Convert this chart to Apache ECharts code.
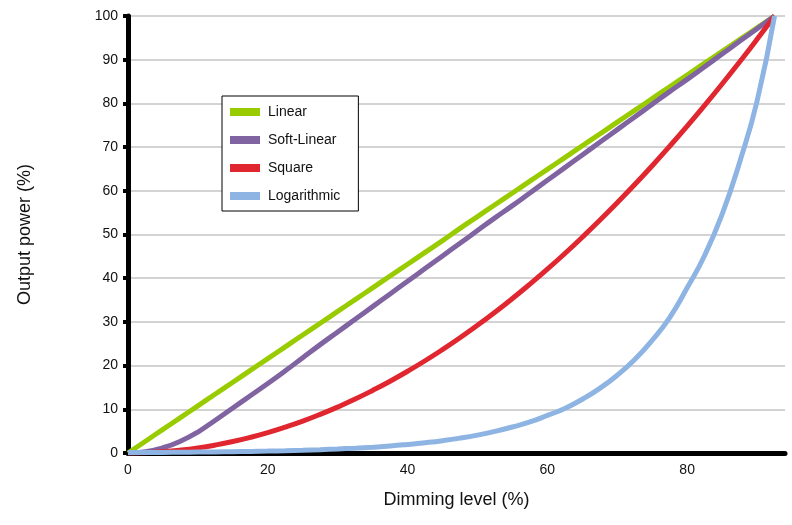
<!DOCTYPE html>
<html>
<head>
<meta charset="utf-8">
<script src="https://cdn.jsdelivr.net/npm/echarts@6/dist/echarts.min.js"></script>
<style>
html,body{margin:0;padding:0;background:#fff;}
#chart{width:792px;height:525px;}
</style>
</head>
<body>
<div id="chart"></div>
<script>
var seriesNames = ['Linear', 'Soft-Linear', 'Square', 'Logarithmic'];
var dimming = [0, 2.5, 5, 7.5, 10, 12.5, 15, 17.5, 20, 22.5, 25, 27.5, 30, 32.5, 35, 37.5, 40, 42.5, 45, 47.5, 50, 52.5, 55, 57.5, 60, 62.5, 65, 67.5, 70, 72.5, 75, 77.5, 80, 82.5, 85, 87.5, 90, 92.5];
var linear = [0, 2.7, 5.4, 8.1, 10.8, 13.5, 16.2, 18.9, 21.6, 24.3, 27.0, 29.7, 32.4, 35.1, 37.8, 40.5, 43.2, 45.9, 48.6, 51.4, 54.1, 56.8, 59.5, 62.2, 64.9, 67.6, 70.3, 73.0, 75.7, 78.4, 81.1, 83.8, 86.5, 89.2, 91.9, 94.6, 97.3, 100];
var softLinear = [0, 0.3, 1.2, 2.7, 4.8, 7.5, 10.3, 13.1, 15.9, 18.8, 21.8, 24.8, 27.7, 30.6, 33.5, 36.4, 39.3, 42.2, 45.1, 48.0, 50.9, 53.8, 56.6, 59.5, 62.4, 65.3, 68.2, 71.1, 74.0, 76.9, 79.8, 82.7, 85.5, 88.4, 91.3, 94.2, 97.1, 100];
var square = [0, 0.07, 0.29, 0.66, 1.17, 1.83, 2.63, 3.58, 4.67, 5.92, 7.30, 8.84, 10.52, 12.34, 14.32, 16.43, 18.70, 21.11, 23.67, 26.37, 29.22, 32.21, 35.35, 38.64, 42.07, 45.65, 49.38, 53.25, 57.27, 61.43, 65.74, 70.20, 74.80, 79.55, 84.44, 89.48, 94.67, 100];
var logarithmic = [0.1, 0.12, 0.14, 0.17, 0.21, 0.25, 0.3, 0.37, 0.44, 0.53, 0.64, 0.77, 0.92, 1.1, 1.33, 1.6, 1.95, 2.35, 2.82, 3.4, 4.1, 4.95, 5.95, 7.1, 8.6, 10.2, 12.3, 14.8, 17.8, 21.4, 25.8, 31.0, 37.8, 45.2, 54.6, 66.5, 80.5, 100];
var yTicks = [0, 10, 20, 30, 40, 50, 60, 70, 80, 90, 100];
var xTicks = [0, 20, 40, 60, 80];
var colors = ['#99cc00', '#8064a2', '#e0262f', '#8db4e2'];

function pairs(ys) {
  return dimming.map(function (x, i) { return [x, ys[i]]; });
}
var allValues = [linear, softLinear, square, logarithmic];

var chart = echarts.init(document.getElementById('chart'));
var font = 'Liberation Sans, Arial, sans-serif';
chart.setOption({
  animation: false,
  backgroundColor: '#ffffff',
  color: colors,
  grid: { left: 128, right: 7, top: 16, bottom: 72, containLabel: false },
  legend: {
    orient: 'vertical',
    left: 222,
    top: 96,
    data: seriesNames,
    icon: 'rect',
    itemWidth: 30,
    itemHeight: 8,
    itemGap: 14,
    padding: [9, 18, 8, 8],
    borderColor: '#000',
    borderWidth: 1,
    backgroundColor: '#fff',
    textStyle: { fontFamily: font, fontSize: 14, color: '#111', padding: [0, 0, 0, 3] }
  },
  xAxis: {
    type: 'value',
    min: 0,
    max: 94,
    interval: 20,
    name: 'Dimming level (%)',
    nameLocation: 'middle',
    nameGap: 38,
    nameTextStyle: { fontFamily: font, fontSize: 18, color: '#111' },
    axisLine: { show: true, onZero: false, lineStyle: { color: '#000', width: 5 } },
    axisTick: { show: false },
    splitLine: { show: false },
    axisLabel: {
      fontFamily: font, fontSize: 14, color: '#111', margin: 10,
      showMaxLabel: false,
      formatter: function (v) { return xTicks.indexOf(v) >= 0 ? String(v) : ''; }
    }
  },
  yAxis: {
    type: 'value',
    min: yTicks[0],
    max: yTicks[yTicks.length - 1],
    interval: 10,
    name: 'Output power (%)',
    nameLocation: 'middle',
    nameGap: 94,
    nameTextStyle: { fontFamily: font, fontSize: 18, color: '#111' },
    axisLine: { show: true, lineStyle: { color: '#000', width: 5 } },
    axisTick: { show: true, length: 5, lineStyle: { color: '#000', width: 4 } },
    splitLine: { show: true, lineStyle: { color: '#c4c4c4', width: 1.5 } },
    axisLabel: { fontFamily: font, fontSize: 14, color: '#111', margin: 10 }
  },
  series: seriesNames.map(function (name, i) {
    return {
      name: name,
      type: 'line',
      smooth: true,
      showSymbol: false,
      data: pairs(allValues[i]),
      lineStyle: { width: 5, color: colors[i] },
      itemStyle: { color: colors[i] }
    };
  })
});
</script>
</body>
</html>
